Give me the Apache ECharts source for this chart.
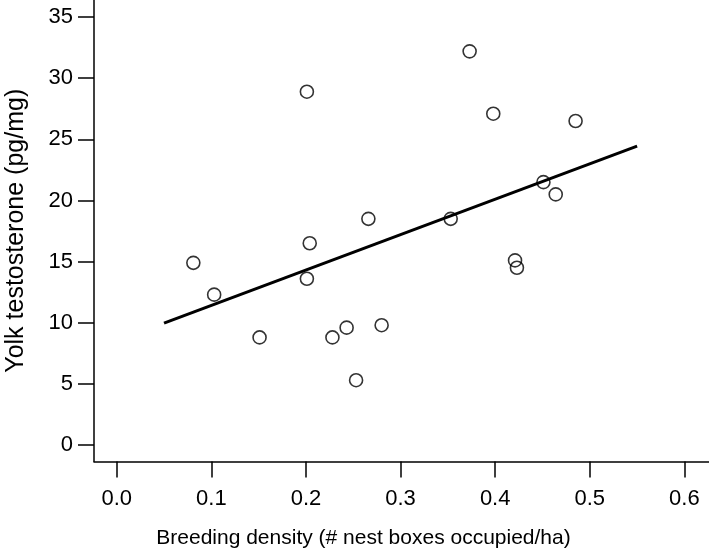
<!DOCTYPE html>
<html>
<head>
<meta charset="utf-8">
<script src="https://cdn.jsdelivr.net/npm/echarts@6/dist/echarts.min.js"></script>
<style>html,body{margin:0;padding:0;background:#fff}#c{width:709px;height:553px}</style>
</head>
<body>
<div id="c"></div>
<script>
const densityX = [0.081, 0.103, 0.151, 0.201, 0.204, 0.201, 0.228, 0.243, 0.253, 0.266, 0.280, 0.353, 0.373, 0.398, 0.421, 0.423, 0.451, 0.464, 0.485];
const testosteroneY = [14.9, 12.3, 8.8, 28.9, 16.5, 13.6, 8.8, 9.6, 5.3, 18.5, 9.8, 18.5, 32.2, 27.1, 15.1, 14.5, 21.5, 20.5, 26.5];
const fitX = [0.05, 0.55];
const fitY = [9.97, 24.45];
const xTicks = [0, 0.1, 0.2, 0.3, 0.4, 0.5, 0.6];
const yTicks = [0, 5, 10, 15, 20, 25, 30, 35];
const xTitle = 'Breeding density (# nest boxes occupied/ha)';
const yTitle = 'Yolk testosterone (pg/mg)';

const chart = echarts.init(document.getElementById('c'), null, {renderer: 'canvas'});
const font = '"Liberation Sans", Arial, sans-serif';
const lineStyle = {color: '#000', width: 1.5};
chart.setOption({
  animation: false,
  backgroundColor: '#fff',
  grid: {left: 94, top: 0, right: 0, bottom: 91.5, outerBoundsMode: 'none', containLabel: false},
  xAxis: {
    type: 'value', min: -0.024, max: 0.626,
    axisLine: {show: true, lineStyle: lineStyle, onZero: false},
    axisTick: {show: true, inside: false, length: 16, lineStyle: lineStyle, customValues: xTicks},
    axisLabel: {customValues: xTicks, margin: 26, fontSize: 22, color: '#000', fontFamily: font,
      formatter: v => v.toFixed(1)},
    splitLine: {show: false},
    name: xTitle, nameLocation: 'middle', nameGap: 66,
    nameTextStyle: {fontSize: 21, color: '#000', fontFamily: font, padding: [0, 76, 0, 0]}
  },
  yAxis: {
    type: 'value', min: -1.35, max: 36.4,
    axisLine: {show: true, lineStyle: lineStyle, onZero: false},
    axisTick: {show: true, inside: false, length: 16, lineStyle: lineStyle, customValues: yTicks},
    axisLabel: {customValues: yTicks, margin: 21, fontSize: 22, color: '#000', fontFamily: font},
    splitLine: {show: false},
    name: yTitle, nameLocation: 'middle', nameGap: 65,
    nameTextStyle: {fontSize: 25, color: '#000', fontFamily: font}
  },
  series: [
    {
      type: 'line',
      data: fitX.map((x, i) => [x, fitY[i]]),
      symbol: 'none',
      lineStyle: {color: '#000', width: 3},
      z: 2
    },
    {
      type: 'scatter',
      data: densityX.map((x, i) => [x, testosteroneY[i]]),
      symbol: 'circle', symbolSize: 13,
      itemStyle: {color: 'rgba(255,255,255,0)', borderColor: '#000', borderWidth: 1.6},
      z: 3
    }
  ]
});
</script>
</body>
</html>
